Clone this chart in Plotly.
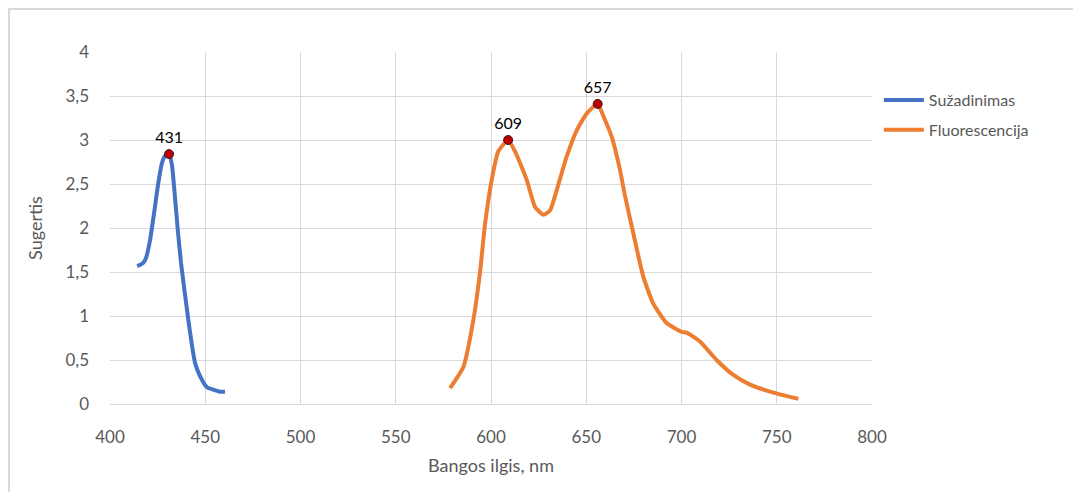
import plotly.graph_objects as go

# Sužadinimas (excitation) spectrum
exc_x = [414.2, 415.7, 417.3, 418.9, 421.0, 423.6, 425.2, 427.3, 428.9, 431.0, 432.5, 434.1,
         435.7, 437.3, 439.4, 440.9, 443.0, 444.6, 447.2, 450.9, 454.6, 457.7, 460.4]
exc_y = [1.57, 1.58, 1.60, 1.66, 1.86, 2.24, 2.49, 2.74, 2.82, 2.84, 2.72, 2.35,
         1.95, 1.60, 1.24, 0.99, 0.67, 0.47, 0.32, 0.19, 0.16, 0.14, 0.14]

# Fluorescencija spectrum
flu_x = [578.5, 585.5, 590.7, 594.2, 596.9, 600.4, 603.8, 609.0, 612.6, 618.7, 623.1, 627.5,
         631.0, 634.5, 639.7, 645.0, 650.2, 656.0, 659.0, 663.3, 667.7, 670.3, 674.7, 679.9,
         685.2, 692.2, 700.1, 702.7, 709.7, 718.4, 727.2, 736.0, 748.2, 761.3]
flu_y = [0.18, 0.42, 0.95, 1.49, 2.05, 2.55, 2.87, 3.00, 2.87, 2.55, 2.24, 2.15,
         2.20, 2.43, 2.81, 3.11, 3.30, 3.41, 3.27, 3.04, 2.66, 2.37, 1.94, 1.45,
         1.14, 0.92, 0.82, 0.81, 0.71, 0.50, 0.33, 0.22, 0.13, 0.06]

peak_x = [431.0, 609.0, 656.0]
peak_y = [2.84, 3.00, 3.41]
peak_labels = ["431", "609", "657"]

x_ticks = [400, 450, 500, 550, 600, 650, 700, 750, 800]
y_ticks = [0, 0.5, 1, 1.5, 2, 2.5, 3, 3.5, 4]
y_tick_labels = ["0", "0,5", "1", "1,5", "2", "2,5", "3", "3,5", "4"]

FONT = "Lato"
GRAY = "#595959"
GRID = "#d9d9d9"

fig = go.Figure()
fig.add_trace(go.Scatter(x=exc_x, y=exc_y, mode="lines", name="Sužadinimas",
                         legendgroup="a",
                         line=dict(color="#4472C4", width=4, shape="spline", smoothing=0.5)))
fig.add_trace(go.Scatter(x=flu_x, y=flu_y, mode="lines", name="Fluorescencija",
                         legendgroup="b",
                         line=dict(color="#ED7D31", width=4, shape="spline", smoothing=0.5)))
fig.add_trace(go.Scatter(x=peak_x, y=peak_y, mode="markers+text", text=peak_labels,
                         textposition="top center", showlegend=False,
                         textfont=dict(family=FONT, size=16, color="#000000"),
                         marker=dict(color="#C00000", size=9, line=dict(color="#3a1a1a", width=1))))

fig.update_layout(
    width=1081, height=492,
    margin=dict(l=102, r=217, t=44, b=96),
    paper_bgcolor="white", plot_bgcolor="white",
    font=dict(family=FONT, size=17, color=GRAY),
    showlegend=True,
    legend=dict(x=1.009, y=0.912, xanchor="left", yanchor="top",
                font=dict(family=FONT, size=16, color=GRAY),
                traceorder="grouped", tracegroupgap=6, itemwidth=40,
                bgcolor="rgba(0,0,0,0)"),
    xaxis=dict(range=[400, 800], tickvals=x_ticks, showgrid=True, gridcolor=GRID,
               gridwidth=1, zeroline=False, showline=True, linecolor=GRID,
               ticks="", ticklabelstandoff=18, tickfont=dict(size=17),
               title=dict(text="Bangos ilgis, nm", font=dict(size=18, color=GRAY), standoff=12)),
    yaxis=dict(range=[0, 4], tickvals=y_ticks, ticktext=y_tick_labels, showgrid=True,
               gridcolor=GRID, gridwidth=1, zeroline=False, showline=False, ticks="",
               ticklabelstandoff=20, tickfont=dict(size=17),
               title=dict(text="Sugertis", font=dict(size=18, color=GRAY), standoff=18)),
)
fig.add_shape(type="rect", xref="paper", yref="paper",
              x0=-0.1325, x1=1.5, y0=-0.5, y1=1.122,
              line=dict(color=GRID, width=2), fillcolor="rgba(0,0,0,0)", layer="below")

fig.write_html("out.html")
